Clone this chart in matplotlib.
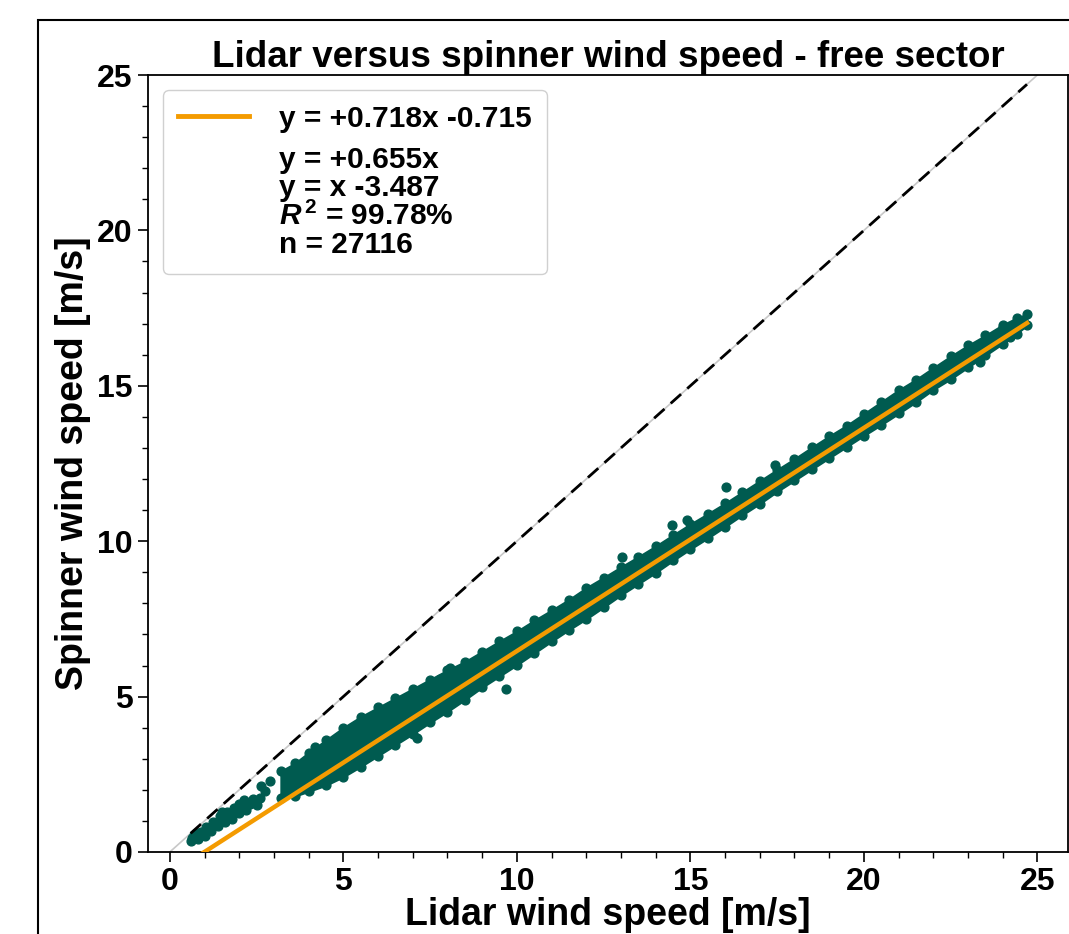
import matplotlib
matplotlib.use("Agg")
import matplotlib.pyplot as plt
from matplotlib.lines import Line2D
from matplotlib.patches import Rectangle

plt.rcParams['font.family'] = ['Liberation Sans', 'DejaVu Sans']
plt.rcParams['font.weight'] = 'bold'
plt.rcParams['mathtext.fontset'] = 'custom'
plt.rcParams['mathtext.bf'] = 'Liberation Sans:bold'
plt.rcParams['mathtext.bfit'] = 'Liberation Sans:bold:italic'
plt.rcParams['mathtext.default'] = 'bf'

# dense part of the cloud: lidar speed and lower / upper spinner speed
cloud_x = [3.2, 3.6, 4, 4.5, 5, 5.5, 6, 6.5, 7, 7.5, 8, 8.5, 9, 9.5, 10, 10.5, 11, 11.5, 12, 12.5,
           13, 13.5, 14, 14.5, 15, 15.5, 16, 16.5, 17, 17.5, 18, 18.5, 19, 19.5, 20, 20.5, 21,
           21.5, 22, 22.5, 23, 23.5, 24, 24.4, 24.7]
cloud_lo = [1.75, 1.8, 1.95, 2.15, 2.42, 2.75, 3.1, 3.45, 3.8, 4.17, 4.52, 4.9, 5.3, 5.66, 6.02,
            6.4, 6.78, 7.15, 7.5, 7.88, 8.27, 8.63, 8.99, 9.38, 9.75, 10.1, 10.47, 10.85, 11.21,
            11.6, 11.96, 12.32, 12.68, 13.04, 13.4, 13.75, 14.11, 14.48, 14.88, 15.22, 15.6,
            15.98, 16.36, 16.68, 16.95]
cloud_hi = [2.6, 2.85, 3.2, 3.6, 4.0, 4.35, 4.65, 4.95, 5.25, 5.55, 5.85, 6.12, 6.45, 6.78, 7.1,
            7.45, 7.78, 8.12, 8.5, 8.83, 9.17, 9.5, 9.84, 10.2, 10.55, 10.88, 11.22, 11.58, 11.94,
            12.3, 12.65, 13.02, 13.38, 13.72, 14.1, 14.48, 14.86, 15.2, 15.58, 15.95, 16.3,
            16.62, 16.96, 17.18, 17.3]

# sparse points at low wind speed and isolated outliers
sparse_x = [0.6, 0.65, 0.7, 0.75, 0.8, 0.85, 0.9, 1.0, 1.05, 1.1, 1.2, 1.25, 1.3, 1.4, 1.45, 1.5,
            1.5, 1.6, 1.65, 1.7, 1.8, 1.85, 1.9, 2.0, 2.0, 2.1, 2.15, 2.2, 2.3, 2.4, 2.5, 2.6, 2.64,
            2.75, 2.9]
sparse_y = [0.35, 0.45, 0.55, 0.62, 0.42, 0.6, 0.65, 0.52, 0.82, 0.75, 0.68, 0.98, 0.92, 0.85,
            1.15, 1.05, 1.28, 0.95, 1.3, 1.18, 1.05, 1.42, 1.3, 1.25, 1.55, 1.45, 1.68, 1.35, 1.55,
            1.72, 1.5, 1.75, 2.12, 1.95, 2.3]
outlier_x = [4.18, 6.24, 7.11, 7.78, 8.07, 9.7, 13.02, 14.46, 14.89, 16.02, 17.44, 23.34, 24.0, 24.2]
outlier_y = [3.39, 4.46, 3.66, 5.58, 5.93, 5.25, 9.50, 10.52, 10.68, 11.73, 12.45, 15.78, 16.9, 16.58]

# regression results from the legend
slope, intercept = 0.718, -0.715
slope0, offset = 0.655, -3.487
r2, n = 99.78, 27116
x_min, x_max = 0.6, 24.7

teal = '#005b50'
orange = '#f49b00'

fig = plt.figure(figsize=(10.69, 9.34), dpi=100)
ax = fig.add_axes([0.1384, 0.0878, 0.8606, 0.8319])

ax.plot([0, 25], [0, 25], color='#c8c8c8', lw=1.2, zorder=1)
ax.fill_between(cloud_x, cloud_lo, cloud_hi, color=teal, lw=1.5, edgecolor=teal, zorder=2)
ax.scatter(cloud_x + cloud_x, cloud_lo + cloud_hi, s=40, color=teal, zorder=2)
ax.scatter(sparse_x, sparse_y, s=40, color=teal, zorder=2)
ax.scatter(outlier_x, outlier_y, s=40, color=teal, zorder=2)

fit_x = [x_min, x_max]
fit_y = [slope * x + intercept for x in fit_x]
ax.plot(fit_x, fit_y, color=orange, lw=3.2, zorder=3)
ax.plot([x_min, x_max], [x_min, x_max], color='black', lw=2, ls=(0, (5, 3)), zorder=3)

ax.set_xlim(-0.63, 25.88)
ax.set_ylim(0, 25)
ax.set_xticks([0, 5, 10, 15, 20, 25])
ax.set_yticks([0, 5, 10, 15, 20, 25])
ax.minorticks_on()
ax.tick_params(which='major', length=7, width=1.2, labelsize=23, pad=4)
ax.tick_params(which='minor', length=4, width=1)
for sp in ax.spines.values():
    sp.set_linewidth(1.3)

ax.set_title('Lidar versus spinner wind speed - free sector', fontsize=26.5, fontweight='bold', pad=6)
ax.set_xlabel('Lidar wind speed [m/s]', fontsize=27, fontweight='bold')
ax.set_ylabel('Spinner wind speed [m/s]', fontsize=27, fontweight='bold')
ax.xaxis.set_label_coords(0.5, -0.058)
ax.yaxis.set_label_coords(-0.062, 0.5)

handles = [Line2D([], [], color=orange, lw=3.5), Line2D([], [], color='none')]
labels = ['y = +%.3fx %.3f' % (slope, intercept),
          'y = +%.3fx\ny = x %.3f\n$\\mathbfit{R}^{\\,2}$ = %.2f%%\nn = %d' % (slope0, offset, r2, n)]
leg = ax.legend(handles, labels, loc='upper left', fontsize=21.5, handlelength=2.4,
                frameon=True, edgecolor='#d0d0d0', framealpha=1, borderpad=0.5,
                labelspacing=0.45, handletextpad=1.0)
leg.get_texts()[1].set_linespacing(1.0)

fig.patches.append(Rectangle((38 / 1069, -0.1), 1.2, 1.1 - 20 / 934, transform=fig.transFigure,
                             fill=False, edgecolor='black', lw=1.5))

fig.savefig('out.png', dpi=100)
